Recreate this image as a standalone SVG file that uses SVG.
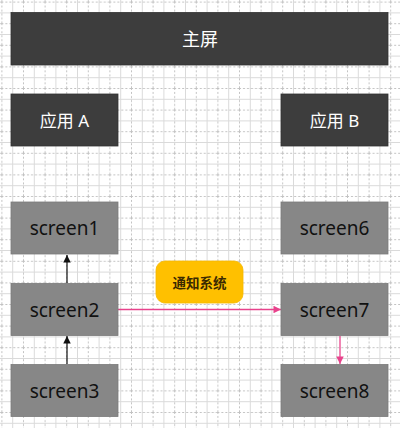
<svg xmlns="http://www.w3.org/2000/svg" width="400" height="428" viewBox="0 0 400 428">
  <style>
    .dark { fill: #3d3d3d; stroke: #333333; stroke-width: 0.8; }
    .gray { fill: #878787; stroke: #7a7a7a; stroke-width: 0.8; }
    .wt { fill: #ffffff; font-family: "Noto Sans", "Noto Sans CJK SC", sans-serif; text-anchor: middle; dominant-baseline: central; }
    .bt { fill: #111111; font-family: "Noto Sans", "Noto Sans CJK SC", sans-serif; font-size: 19px; text-anchor: middle; dominant-baseline: central; }
    .blk { stroke: #111111; stroke-width: 1.2; fill: none; }
    .pink { stroke: #e8438c; stroke-width: 1.3; fill: none; }
  </style>
  <defs>
    <pattern id="grid" x="1.4" y="1.6" width="21.6" height="21.6" patternUnits="userSpaceOnUse">
      <path d="M0.5 0 V21.6 M0 0.5 H21.6" stroke="#c2c2c2" stroke-width="1" stroke-dasharray="2 2" fill="none"/>
      <path d="M11.3 0 V21.6 M0 11.3 H21.6" stroke="#dadada" stroke-width="1" fill="none"/>
    </pattern>
    <marker id="ab" viewBox="0 0 10 10" refX="10" refY="5" markerWidth="8" markerHeight="7.5" markerUnits="userSpaceOnUse" orient="auto">
      <path d="M0 0 L10 5 L0 10 z" fill="#111111"/>
    </marker>
    <marker id="ap" viewBox="0 0 10 10" refX="10" refY="5" markerWidth="8" markerHeight="7.5" markerUnits="userSpaceOnUse" orient="auto">
      <path d="M0 0 L10 5 L0 10 z" fill="#e8438c"/>
    </marker>
  </defs>
  <rect width="400" height="428" fill="#ffffff"/>
  <rect width="400" height="428" fill="url(#grid)"/>

  <g id="connectors">
    <line class="blk" x1="67" y1="283" x2="67" y2="255" marker-end="url(#ab)"/>
    <line class="blk" x1="67" y1="364" x2="67" y2="336" marker-end="url(#ab)"/>
    <line class="pink" x1="118" y1="309.5" x2="281" y2="309.5" marker-end="url(#ap)"/>
    <line class="pink" x1="340" y1="336" x2="340" y2="364" marker-end="url(#ap)"/>
  </g>

  <g id="main-screen">
    <rect class="dark" x="11" y="12.5" width="377" height="52.5"/>
    <text class="wt" x="200" y="39" font-size="18">主屏</text>
  </g>
  <g id="app-a">
    <rect class="dark" x="11" y="94" width="107" height="52"/>
    <text class="wt" x="64.5" y="120" font-size="17">应用 A</text>
  </g>
  <g id="app-b">
    <rect class="dark" x="281" y="94" width="107" height="52"/>
    <text class="wt" x="334.5" y="120" font-size="17">应用 B</text>
  </g>
  <g id="screen1">
    <rect class="gray" x="11" y="202" width="107" height="52"/>
    <text class="bt" x="64.5" y="228">screen1</text>
  </g>
  <g id="screen2">
    <rect class="gray" x="11" y="283.5" width="107" height="52"/>
    <text class="bt" x="64.5" y="309.5">screen2</text>
  </g>
  <g id="screen3">
    <rect class="gray" x="11" y="364.5" width="107" height="52"/>
    <text class="bt" x="64.5" y="390.5">screen3</text>
  </g>
  <g id="screen6">
    <rect class="gray" x="281" y="202" width="107" height="52"/>
    <text class="bt" x="334.5" y="228">screen6</text>
  </g>
  <g id="screen7">
    <rect class="gray" x="281" y="283.5" width="107" height="52"/>
    <text class="bt" x="334.5" y="309.5">screen7</text>
  </g>
  <g id="screen8">
    <rect class="gray" x="281" y="364.5" width="107" height="52"/>
    <text class="bt" x="334.5" y="390.5">screen8</text>
  </g>
  <g id="notify">
    <rect x="156" y="261" width="87" height="42" rx="9" ry="9" fill="#ffc000" stroke="#f5b800" stroke-width="0.8"/>
    <text x="199.5" y="282" fill="#3a2a00" font-family="Noto Sans CJK SC, sans-serif" font-size="13.5" font-weight="bold" text-anchor="middle" dominant-baseline="central">通知系统</text>
  </g>
</svg>
